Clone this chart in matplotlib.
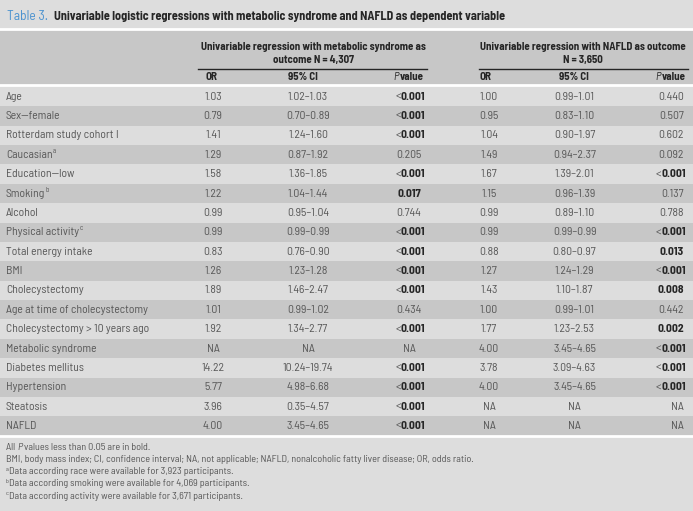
import matplotlib
matplotlib.use("Agg")
from matplotlib import pyplot as plt
from matplotlib.patches import Rectangle

plt.rcParams['font.family'] = ['Barlow Semi Condensed', 'DejaVu Sans']

title_num = "Table 3."
title_text = "Univariable logistic regressions with metabolic syndrome and NAFLD as dependent variable"
group1 = ["Univariable regression with metabolic syndrome as", "outcome N = 4,307"]
group2 = ["Univariable regression with NAFLD as outcome", "N = 3,650"]

labels = ["Age", "Sex\u2014female", "Rotterdam study cohort I", "Caucasian", "Education\u2014low",
          "Smoking", "Alcohol", "Physical activity", "Total energy intake", "BMI",
          "Cholecystectomy", "Age at time of cholecystectomy", "Cholecystectomy > 10 years ago",
          "Metabolic syndrome", "Diabetes mellitus", "Hypertension", "Steatosis", "NAFLD"]
label_sup = ["", "", "", "a", "", "b", "", "c", "", "", "", "", "", "", "", "", "", ""]

ms_or = ["1.03", "0.79", "1.41", "1.29", "1.58", "1.22", "0.99", "0.99", "0.83", "1.26",
         "1.89", "1.01", "1.92", "NA", "14.22", "5.77", "3.96", "4.00"]
ms_ci = ["1.02\u20131.03", "0.70\u20130.89", "1.24\u20131.60", "0.87\u20131.92", "1.36\u20131.85",
         "1.04\u20131.44", "0.95\u20131.04", "0.99\u20130.99", "0.76\u20130.90", "1.23\u20131.28",
         "1.46\u20132.47", "0.99\u20131.02", "1.34\u20132.77", "NA", "10.24\u201319.74",
         "4.98\u20136.68", "0.35\u20134.57", "3.45\u20134.65"]
ms_p = ["<0.001", "<0.001", "<0.001", "0.205", "<0.001", "0.017", "0.744", "<0.001", "<0.001",
        "<0.001", "<0.001", "0.434", "<0.001", "NA", "<0.001", "<0.001", "<0.001", "<0.001"]

nafld_or = ["1.00", "0.95", "1.04", "1.49", "1.67", "1.15", "0.99", "0.99", "0.88", "1.27",
            "1.43", "1.00", "1.77", "4.00", "3.78", "4.00", "NA", "NA"]
nafld_ci = ["0.99\u20131.01", "0.83\u20131.10", "0.90\u20131.97", "0.94\u20132.37", "1.39\u20132.01",
            "0.96\u20131.39", "0.89\u20131.10", "0.99\u20130.99", "0.80\u20130.97", "1.24\u20131.29",
            "1.10\u20131.87", "0.99\u20131.01", "1.23\u20132.53", "3.45\u20134.65", "3.09\u20134.63",
            "3.45\u20134.65", "NA", "NA"]
nafld_p = ["0.440", "0.507", "0.602", "0.092", "<0.001", "0.137", "0.788", "<0.001", "0.013",
           "<0.001", "0.008", "0.442", "0.002", "<0.001", "<0.001", "<0.001", "NA", "NA"]

footnotes = [("", "All ", "P", " values less than 0.05 are in bold."),
             ("", "BMI, body mass index; CI, confidence interval; NA, not applicable; NAFLD, nonalcoholic fatty liver disease; OR, odds ratio.", "", ""),
             ("a", "Data according race were available for 3,923 participants.", "", ""),
             ("b", "Data according smoking were available for 4,069 participants.", "", ""),
             ("c", "Data according activity were available for 3,671 participants.", "", "")]

bg = "#dddddd"
band = "#c7c7c7"
txt = "#575757"
dark = "#262626"
blue = "#4a92cf"

fig = plt.figure(figsize=(6.93, 5.11), dpi=100, facecolor=bg)
ax = fig.add_axes([0, 0, 1, 1])
ax.set_xlim(0, 693)
ax.set_ylim(511, 0)
ax.axis("off")
fig.canvas.draw()
renderer = fig.canvas.get_renderer()
px = 693 / fig.bbox.width


def right_of(t):
    return ax.transData.inverted().transform((t.get_window_extent(renderer).x1, 0))[0]


def left_of(t):
    return ax.transData.inverted().transform((t.get_window_extent(renderer).x0, 0))[0]


def fit_size(s, target, **kw):
    # font size so that string s is about target pixels wide
    t = ax.text(0, 0, s, fontsize=10, **kw)
    w = t.get_window_extent(renderer).width * px
    t.remove()
    return 10 * target / w


fs = fit_size("Cholecystectomy > 10 years ago", 143)
fs_head = fit_size(group1[0], 224, fontweight="bold")
fs_num = fit_size(title_num, 41)
fs_title = fit_size(title_text, 451, fontweight="bold")
fs_foot = fit_size("All P values less than 0.05 are in bold.", 146)

# title
ax.text(7, 16, title_num, color=blue, fontsize=fs_num, va="center")
ax.text(54, 16, title_text, color=dark, fontsize=fs_title, fontweight="bold", va="center")

# header block
ax.add_patch(Rectangle((0, 30), 693, 55, facecolor=band, edgecolor="none"))
ax.plot([0, 693], [29.5, 29.5], color="white", lw=2)
ax.plot([0, 693], [85.5, 85.5], color="white", lw=2)

for cx, lines in [(313.5, group1), (583, group2)]:
    ax.text(cx, 46.5, lines[0], ha="center", va="center", fontsize=fs_head, fontweight="bold", color=dark)
    ax.text(cx, 60.5, lines[1], ha="center", va="center", fontsize=fs_head, fontweight="bold", color=dark)
ax.plot([198, 427], [69.5, 69.5], color=dark, lw=1)
ax.plot([479, 688], [69.5, 69.5], color=dark, lw=1)

for x0, xc, x1 in [(206, 303, 424), (480, 574, 686)]:
    ax.text(x0, 77.5, "OR", ha="left", va="center", fontsize=fs_head, fontweight="bold", color=dark)
    ax.text(xc, 77.5, "95% CI", ha="center", va="center", fontsize=fs_head, fontweight="bold", color=dark)
    v = ax.text(x1, 77.5, "value", ha="right", va="center", fontsize=fs_head, fontweight="bold", color=dark)
    ax.text(left_of(v) - 1.5, 77.5, "P", ha="right", va="center", fontsize=fs_head, fontstyle="italic", color=dark)

# rows
row_y0 = 96.7
row_h = 19.37
for i in range(len(labels)):
    y = row_y0 + i * row_h
    if i % 2 == 1:
        ax.add_patch(Rectangle((0, y - row_h / 2), 693, row_h, facecolor=band, edgecolor="none"))
    t = ax.text(6, y, labels[i], va="center", fontsize=fs, color=txt)
    if label_sup[i]:
        ax.text(right_of(t) + 0.5, y - 3.5, label_sup[i], va="center", fontsize=fs * 0.6, color=txt)

    for xc, val in [(213, ms_or[i]), (308, ms_ci[i]), (489, nafld_or[i]), (574.5, nafld_ci[i])]:
        ax.text(xc, y, val, ha="center", va="center", fontsize=fs, color=txt)

    for xp, ha, p in [(409, "center", ms_p[i]), (684, "right", nafld_p[i])]:
        if p.startswith("<"):
            b = ax.text(xp + (4 if ha == "center" else 2), y, p[1:], ha=ha, va="center",
                        fontsize=fs, fontweight="bold", color=dark)
            ax.text(left_of(b), y, "<", ha="right", va="center", fontsize=fs, color=txt)
        elif p != "NA" and float(p) < 0.05:
            ax.text(xp, y, p, ha=ha, va="center", fontsize=fs, fontweight="bold", color=dark)
        else:
            ax.text(xp, y, p, ha=ha, va="center", fontsize=fs, color=txt)

yb = row_y0 + (len(labels) - 0.5) * row_h
ax.plot([0, 693], [yb, yb], color="white", lw=2)

# footnotes
fy = 447.3
for sup, a, it, b in footnotes:
    x = 6
    if sup:
        s = ax.text(x, fy - 2.5, sup, va="center", fontsize=fs_foot * 0.6, color=txt)
        x = right_of(s)
    t = ax.text(x, fy, a, va="center", fontsize=fs_foot, color=txt)
    if it:
        t2 = ax.text(right_of(t), fy, it, va="center", fontsize=fs_foot, fontstyle="italic", color=txt)
        ax.text(right_of(t2), fy, b, va="center", fontsize=fs_foot, color=txt)
    fy += 12.2

fig.savefig("out.png", dpi=100, facecolor=bg)
